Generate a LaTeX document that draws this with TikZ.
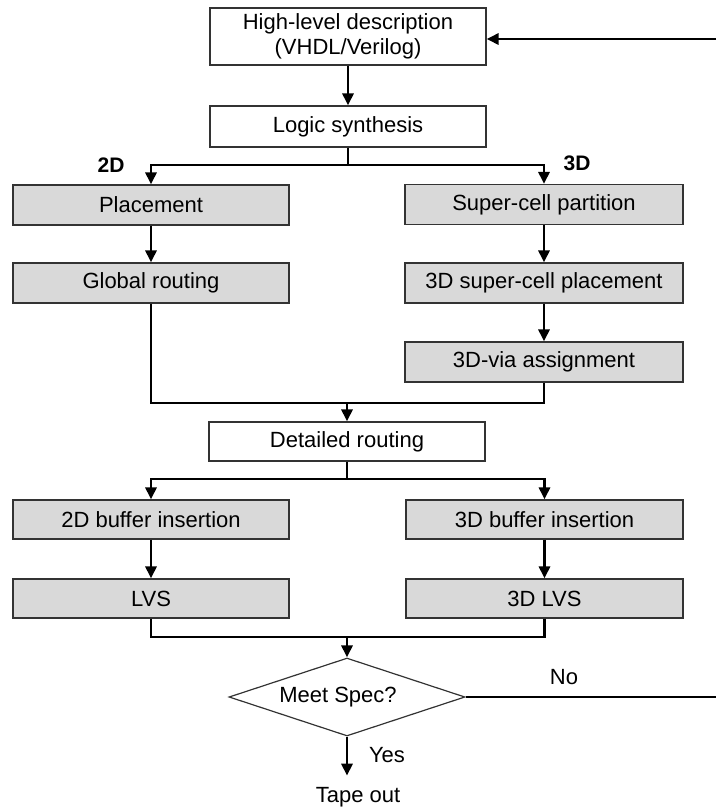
\documentclass[tikz,border=0pt]{standalone}
\usepackage{fontspec}
\setmainfont{Liberation Sans}
\usetikzlibrary{arrows.meta,shapes.geometric}
\definecolor{boxgray}{HTML}{D9D9D9}
\definecolor{edgegray}{HTML}{333333}
\begin{document}
\begin{tikzpicture}[x=1pt,y=-1pt,
  every node/.style={font=\fontsize{22}{25}\selectfont},
  whitebox/.style={draw=edgegray,line width=1.2pt,fill=white,minimum width=276pt,inner sep=0pt,align=center},
  graybox/.style={draw=edgegray,line width=1.2pt,fill=boxgray,minimum width=276pt,minimum height=40pt,inner sep=0pt},
  conn/.style={line width=2.9pt,-{Triangle[length=12pt,width=11pt]}},
  wire/.style={line width=2.9pt},
  lbl/.style={inner sep=0pt},
  boldlbl/.style={inner sep=0pt,font=\fontsize{21}{24}\selectfont\bfseries}]
\useasboundingbox (0,0) rectangle (716,807);
% boxes
\node[whitebox,minimum height=57pt] (top) at (348,36.5) {High-level description\\(VHDL/Verilog)};
\node[whitebox,minimum height=41pt] (logic) at (348,126.5) {Logic synthesis};
\node[graybox] (place) at (151,205) {Placement};
\node[graybox] (groute) at (151,283) {Global routing};
\node[graybox,minimum width=278pt] (scp) at (544,204.5) {Super-cell partition};
\node[graybox,minimum width=278pt] (scpl) at (544,283) {3D super-cell placement};
\node[graybox,minimum width=278pt] (via) at (544,362) {3D-via assignment};
\node[whitebox,minimum height=39pt] (detail) at (347,441.5) {Detailed routing};
\node[graybox,minimum height=39pt] (buf2) at (151,519.5) {2D buffer insertion};
\node[graybox,minimum height=39pt] (lvs) at (151,598.5) {LVS};
\node[graybox,minimum height=39pt,minimum width=277pt] (buf3) at (544.5,519.5) {3D buffer insertion};
\node[graybox,minimum height=39pt,minimum width=277pt] (lvs3) at (544.5,598.5) {3D LVS};
\node[draw=edgegray,line width=1.2pt,shape=diamond,minimum width=236pt,minimum height=78pt,inner sep=0pt] (spec) at (347,697) {};
\node[lbl] (spectext) at (338,697) {Meet Spec?};
\node[inner xsep=0pt,inner ysep=11pt,anchor=base] (tape) at (358,802) {Tape out};
% labels
\node[boldlbl] (l2d) at (111,165) {2D};
\node[boldlbl] (l3d) at (577,163) {3D};
\node[lbl] (lno) at (564,677) {No};
\node[lbl] (lyes) at (387,755) {Yes};
% junctions
\coordinate (j1) at (348,165);
\coordinate (j2) at (347,403);
\coordinate (j3) at (347,479);
\coordinate (j4) at (347,637);
\coordinate (fbR) at (716,697);
\coordinate (fbT) at (716,39);
% connectors
\draw[conn] (top) -- (logic);
\draw[wire] (logic.south) -- (j1);
\draw[conn] (j1) -| (place.north);
\draw[conn] (j1) -| (scp.north);
\draw[conn] (place) -- (groute);
\draw[conn] (scp) -- (scpl);
\draw[conn] (scpl) -- (via);
\draw[wire] (groute.south) |- (j2);
\draw[wire] (via.south) |- (j2);
\draw[conn] (j2) -- (detail.north);
\draw[wire] (detail.south) -- (j3);
\draw[conn] (j3) -| (buf2.north);
\draw[conn] (j3) -| (buf3.north);
\draw[conn] (buf2) -- (lvs);
\draw[conn] (buf3) -- (lvs3);
\draw[wire] (lvs.south) |- (j4);
\draw[wire] (lvs3.south) |- (j4);
\draw[conn] (j4) -- (spec.north);
\draw[conn] (spec.south) -- (spec.south |- tape.north);
\draw[wire] (spec.east) -- (fbR);
\draw[conn] (fbT) -- (top.east |- fbT);
\end{tikzpicture}
\end{document}
